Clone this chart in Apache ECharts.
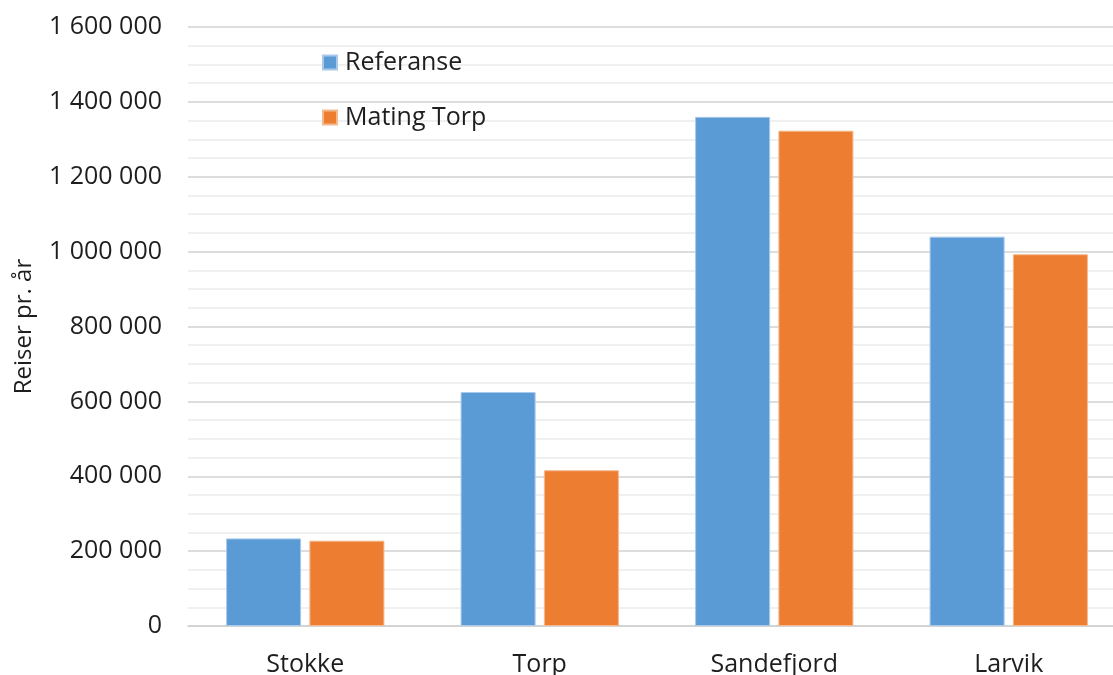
<!DOCTYPE html>
<html>
<head>
<meta charset="utf-8">
<script src="https://cdn.jsdelivr.net/npm/echarts@6/dist/echarts.min.js"></script>
<style>
  html, body { margin: 0; padding: 0; background: #fff; }
  #chart { width: 1113px; height: 675px; }
</style>
</head>
<body>
<div id="chart"></div>
<script>
// Annual trips per area: reference scenario vs. feeder to Torp
const categories = ['Stokke', 'Torp', 'Sandefjord', 'Larvik'];
const referanse = [234000, 625000, 1360000, 1040000];
const matingTorp = [228000, 416000, 1323000, 993000];
const seriesNames = ['Referanse', 'Mating Torp'];
const axisName = 'Reiser pr. år';

const FONT = '"Open Sans", sans-serif';
const TEXT = '#1e1e1e';

function fmt(v) {
  return String(v).replace(/\B(?=(\d{3})+(?!\d))/g, ' ');
}

const chart = echarts.init(document.getElementById('chart'), null, { renderer: 'canvas' });
chart.setOption({
  backgroundColor: '#ffffff',
  animation: false,
  grid: { left: 188, top: 27, width: 938, bottom: 49, containLabel: false, outerBoundsMode: 'none' },
  legend: {
    orient: 'vertical',
    left: 317,
    top: 45,
    itemWidth: 14,
    itemHeight: 14,
    itemGap: 30,
    icon: 'rect',
    textStyle: { fontFamily: FONT, fontSize: 25, color: TEXT, padding: [0, 0, 0, 3] },
    data: seriesNames
  },
  xAxis: {
    type: 'category',
    data: categories,
    axisLine: { show: true, lineStyle: { color: '#d0d0d0', width: 1.5 } },
    axisTick: { show: false },
    axisLabel: { fontFamily: FONT, fontSize: 25, color: TEXT, margin: 26 }
  },
  yAxis: {
    type: 'value',
    min: 0,
    max: 1600000,
    interval: 200000,
    name: axisName,
    nameLocation: 'middle',
    nameGap: 152,
    nameRotate: 90,
    nameTextStyle: { fontFamily: FONT, fontSize: 24, color: TEXT },
    axisLine: { show: false },
    axisTick: { show: false },
    axisLabel: { fontFamily: FONT, fontSize: 25, color: TEXT, margin: 26, formatter: fmt },
    splitLine: { show: true, lineStyle: { color: '#d2d2d2', width: 1.5 } },
    minorTick: { show: false, splitNumber: 4 },
    minorSplitLine: { show: true, lineStyle: { color: '#ececec', width: 1.5 } }
  },
  series: [
    {
      name: seriesNames[0],
      type: 'bar',
      data: referanse,
      barWidth: '32%',
      barGap: '11%',
      itemStyle: { color: '#5B9BD5', borderColor: '#a9c9ea', borderWidth: 1 }
    },
    {
      name: seriesNames[1],
      type: 'bar',
      data: matingTorp,
      barWidth: '32%',
      itemStyle: { color: '#ED7D31', borderColor: '#f4b98f', borderWidth: 1 }
    }
  ]
});
</script>
</body>
</html>
